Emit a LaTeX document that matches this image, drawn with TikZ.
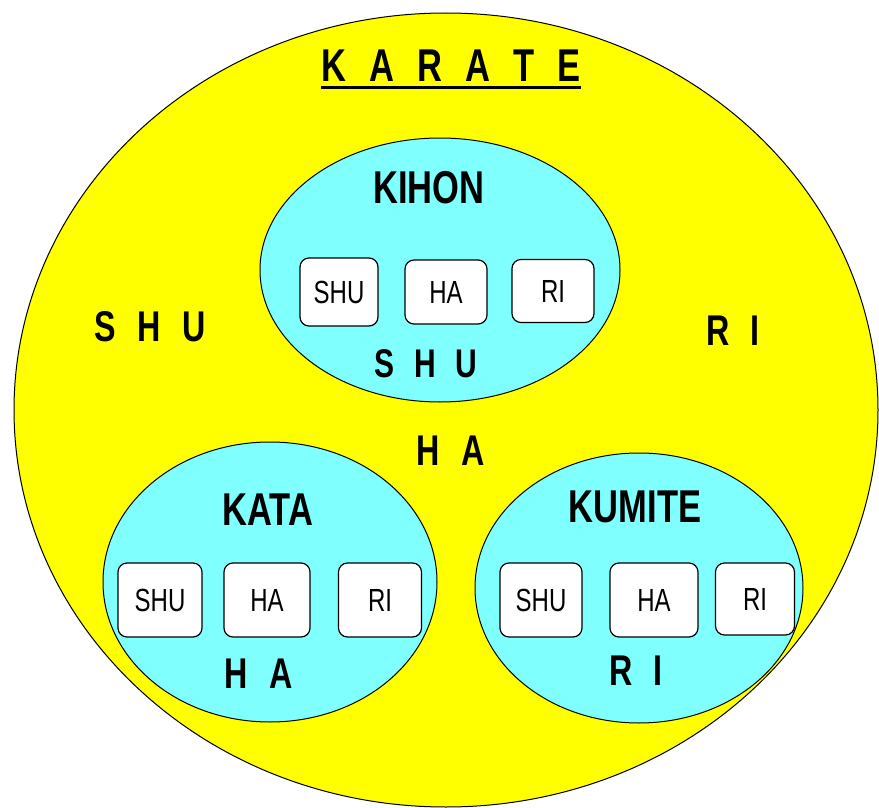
\documentclass[tikz,border=0pt]{standalone}
\usepackage{fontspec}
\setmainfont{Liberation Sans}
\newfontfamily\narrowfont[FakeStretch=0.75,WordSpace=2.4]{Liberation Sans}

\definecolor{beltyellow}{HTML}{FFFF00}
\definecolor{giaqua}{HTML}{80FFFF}

\tikzset{
	head/.style={font=\narrowfont\bfseries\fontsize{46}{50}\selectfont, inner sep=0pt, anchor=base},
	stage/.style={font=\narrowfont\bfseries\fontsize{43}{46}\selectfont, inner sep=0pt, anchor=base},
	cell/.style={draw, fill=white, rounded corners=9pt, line width=1.2pt, inner sep=0pt,
		font=\narrowfont\fontsize{32}{34}\selectfont, minimum width=82pt, minimum height=74pt},
	area/.style={draw, line width=1pt}
}

\begin{document}
\begin{tikzpicture}[x=1pt, y=-1pt]
	\useasboundingbox (0, 0) rectangle (879, 808);

	\draw[area, fill=beltyellow] (446, 410) ellipse [x radius=432, y radius=397];
	
	\draw[area, fill=giaqua] (440, 270) ellipse [x radius=180, y radius=132]; % kihon
	\draw[area, fill=giaqua] (270, 582) ellipse [x radius=167, y radius=140]; % kata
	\draw[area, fill=giaqua] (639, 588) ellipse [x radius=164, y radius=135]; % kumite

	\node[head] (karate) at (451, 82) {K A R A T E};
	\draw[line width=3pt] ([yshift=-6pt]karate.base west) -- ([yshift=-6pt]karate.base east);

	\node[stage] (shuout) at (150, 341) {S H U};
	\node[stage] (haout) at (451, 465) {H A};
	\node[stage] (riout) at (733, 345) {R I};

	% kihon
	\node[head] (kihon) at (429, 203) {KIHON};
	\node[cell, minimum width=78pt, minimum height=68pt] (kihonshu) at (339, 292) {SHU};
	\node[cell, minimum height=64pt] (kihonha) at (446, 292) {HA};
	\node[cell, minimum height=63pt] (kihonri) at (553, 291) {RI};
	\node[stage, font=\narrowfont\bfseries\fontsize{40}{44}\selectfont] (kihonstage) at (426, 377) {S H U};

	% kata
	\node[head] (kata) at (268, 525) {KATA};
	\node[cell, minimum width=84pt] (katashu) at (160, 600) {SHU};
	\node[cell, minimum width=86pt] (kataha) at (267, 600) {HA};
	\node[cell, minimum width=83pt] (katari) at (380, 600) {RI};
	\node[stage] (katastage) at (259, 688) {H A};

	% kumite
	\node[head] (kumite) at (635, 522) {KUMITE};
	\node[cell] (kumiteshu) at (541, 600) {SHU};
	\node[cell, minimum width=88pt] (kumiteha) at (654, 600) {HA};
	\node[cell, minimum width=79pt, minimum height=72pt] (kumiteri) at (755, 599) {RI};
	\node[stage] (kumitestage) at (636, 685) {R I};
\end{tikzpicture}
\end{document}
